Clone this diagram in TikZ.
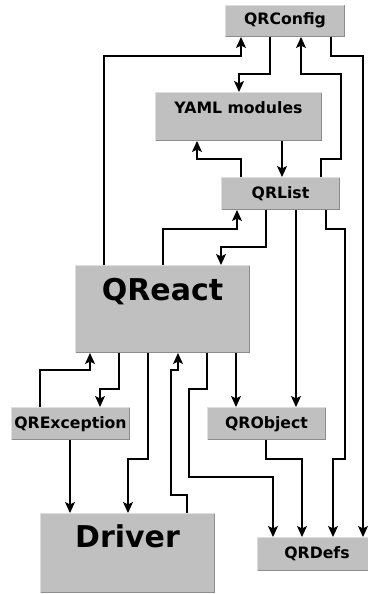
\documentclass[tikz,border=0pt]{standalone}
\usepackage{fontspec}
\setmainfont{DejaVu Sans}
\usetikzlibrary{arrows.meta}
\definecolor{boxgray}{HTML}{C0C0C0}
\definecolor{lightedge}{HTML}{DEDEDE}
\definecolor{darkedge}{HTML}{8C8C8C}
\tikzset{
  qbox/.style={rectangle, fill=boxgray, draw=none, inner sep=0pt, outer sep=0pt},
  smalltext/.style={font=\bfseries\fontsize{15.7}{18}\selectfont, inner sep=0pt, anchor=base},
  bigtext/.style={font=\bfseries\fontsize{30}{34}\selectfont, inner sep=0pt, anchor=base},
  conn/.style={line width=1.1pt, black, -{Stealth[length=11pt,width=10pt,inset=2.5pt]}},
}
\begin{document}
\begin{tikzpicture}[x=1pt,y=-1pt]
\fill[white] (0,0) rectangle (367,594);
\useasboundingbox (0,0) rectangle (367,594);

\node[qbox, minimum width=120pt, minimum height=32pt,
  label={[smalltext, yshift=-20pt]north:QRConfig}] (cfg) at (285,21) {};
\node[qbox, minimum width=167pt, minimum height=49pt,
  label={[smalltext, yshift=-21pt]north:YAML modules}] (yaml) at (238.5,116.5) {};
\node[qbox, minimum width=119pt, minimum height=33pt,
  label={[smalltext, yshift=-21pt]north:QRList}] (list) at (280.5,193.5) {};
\node[qbox, minimum width=175pt, minimum height=88pt,
  label={[bigtext, yshift=-35pt]north:QReact}] (react) at (162.5,309) {};
\node[qbox, minimum width=119pt, minimum height=33pt,
  label={[smalltext, yshift=-21pt]north:QRException}] (exc) at (70.5,423.5) {};
\node[qbox, minimum width=119pt, minimum height=33pt,
  label={[smalltext, yshift=-21pt]north:QRObject}] (obj) at (266.5,423.5) {};
\node[qbox, minimum width=175pt, minimum height=80pt,
  label={[bigtext, yshift=-34pt]north:Driver}] (drv) at (127.5,553) {};
\node[qbox, minimum width=120pt, minimum height=34pt,
  label={[smalltext, yshift=-21pt]north:QRDefs}] (defs) at (317,554) {};

\foreach \n in {cfg,yaml,list,react,exc,obj,drv,defs}{
  \draw[lightedge, line width=1pt] ([shift={(0.5,-0.5)}]\n.south west) |- ([shift={(-0.5,0.5)}]\n.north east);
  \draw[darkedge, line width=1pt] ([shift={(-0.5,0.5)}]\n.north east) |- ([shift={(0.5,-0.5)}]\n.south west);
}

% connectors
\draw[conn] ([xshift=29pt]react.north west) |- (241,56) -- ([xshift=16pt]cfg.south west);
\draw[conn] ([xshift=45pt]cfg.south west) |- (239,74) -- ([xshift=84pt]yaml.north west);
\draw[conn] ([xshift=106pt]cfg.south west) |- (363,56) -- ([xshift=106pt]defs.north west);
\draw[conn] ([xshift=100pt]list.north west) |- (341,159) |- (301,74) -- ([xshift=76pt]cfg.south west);
\draw[conn] ([xshift=20pt]list.north west) |- (197,159) -- ([xshift=42pt]yaml.south west);
\draw[conn] ([xshift=127pt]yaml.south west) -- ([xshift=61pt]list.north west);
\draw[conn] ([xshift=88pt]react.north west) |- (237,229) -- ([xshift=16pt]list.south west);
\draw[conn] ([xshift=45pt]list.south west) |- (221,247) -- ([xshift=146pt]react.north west);
\draw[conn] ([xshift=75pt]list.south west) -- ([xshift=89pt]obj.north west);
\draw[conn] ([xshift=105pt]list.south west) |- (345,229) |- (333,459) -- ([xshift=76pt]defs.north west);
\draw[conn] ([xshift=44pt]react.south west) |- (100,389) -- ([xshift=89pt]exc.north west);
\draw[conn] ([xshift=29pt]exc.north west) |- (90,370) -- ([xshift=15pt]react.south west);
\draw[conn] ([xshift=73pt]react.south west) |- (128,459) -- ([xshift=88pt]drv.north west);
\draw[conn] ([xshift=147pt]drv.north west) |- (171,495) |- (178,370) -- ([xshift=103pt]react.south west);
\draw[conn] ([xshift=132pt]react.south west) |- (189,389) |- (273,477) -- ([xshift=16pt]defs.north west);
\draw[conn] ([xshift=161pt]react.south west) -- ([xshift=29pt]obj.north west);
\draw[conn] ([xshift=59pt]exc.south west) -- ([xshift=30pt]drv.north west);
\draw[conn] ([xshift=59pt]obj.south west) |- (302,459) -- ([xshift=45pt]defs.north west);
\end{tikzpicture}
\end{document}
